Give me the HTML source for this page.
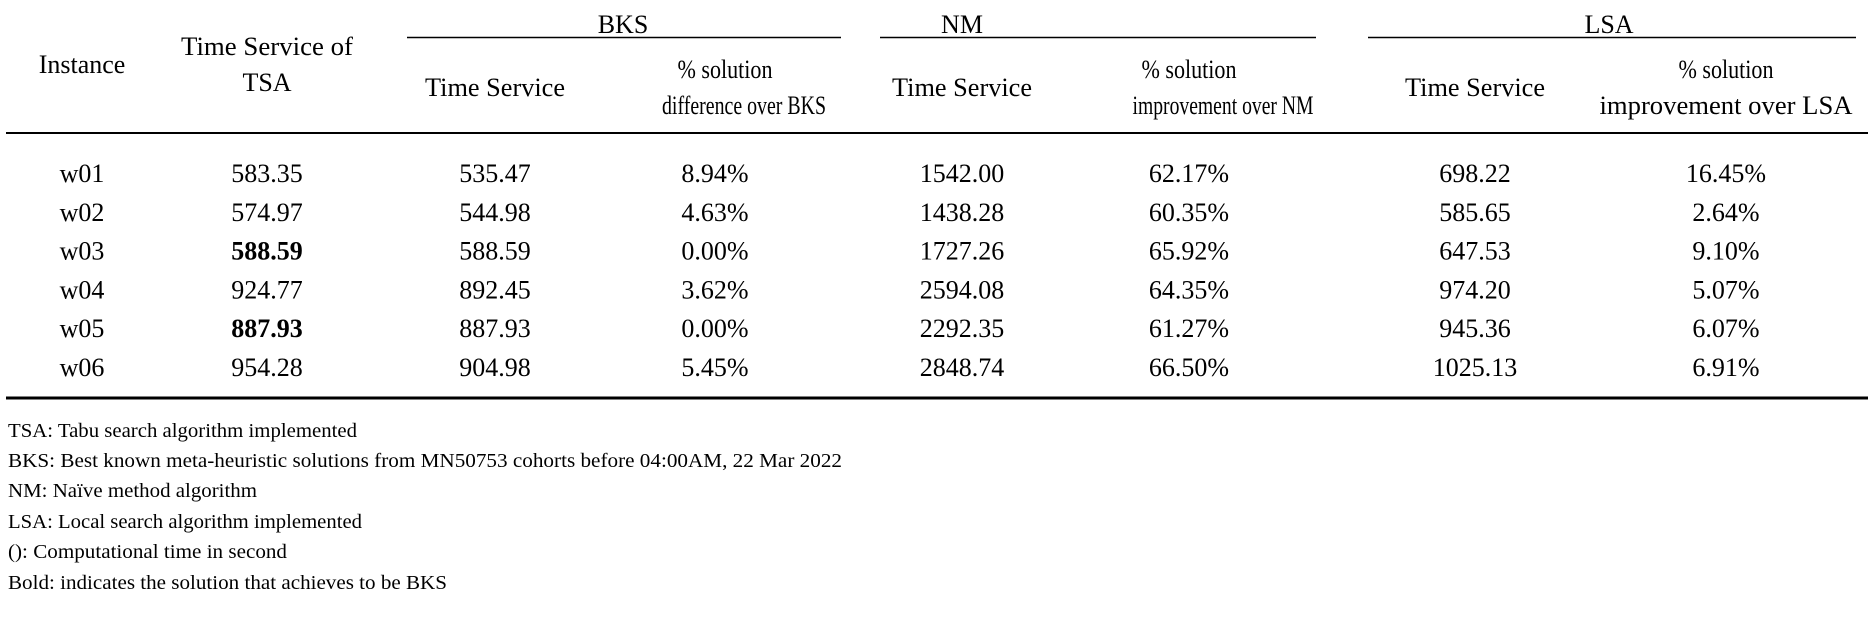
<!DOCTYPE html>
<html><head><meta charset="utf-8"><style>
html,body{margin:0;padding:0;background:#fff;}
svg{display:block;font-family:"Liberation Serif",serif;fill:#000;}
</style></head><body>
<svg id="tbl" width="1871" height="617" viewBox="0 0 1871 617" xmlns="http://www.w3.org/2000/svg">
<g font-size="26" text-anchor="middle">
<text x="82" y="73">Instance</text>
<text x="267" y="55" textLength="172" lengthAdjust="spacingAndGlyphs">Time Service of</text>
<text x="267" y="91">TSA</text>
<text x="623" y="33">BKS</text>
<text x="962" y="33">NM</text>
<text x="1609" y="33">LSA</text>
<line x1="407" y1="37.5" x2="841" y2="37.5" stroke="#000" stroke-width="1.5"/>
<line x1="880" y1="37.5" x2="1316" y2="37.5" stroke="#000" stroke-width="1.5"/>
<line x1="1368" y1="37.5" x2="1856" y2="37.5" stroke="#000" stroke-width="1.5"/>
<text x="495" y="96" textLength="140" lengthAdjust="spacingAndGlyphs">Time Service</text>
<text x="725" y="78" textLength="95" lengthAdjust="spacingAndGlyphs">% solution</text>
<text x="744" y="114" textLength="164" lengthAdjust="spacingAndGlyphs">difference over BKS</text>
<text x="962" y="96" textLength="140" lengthAdjust="spacingAndGlyphs">Time Service</text>
<text x="1189" y="78" textLength="95" lengthAdjust="spacingAndGlyphs">% solution</text>
<text x="1223" y="114" textLength="181" lengthAdjust="spacingAndGlyphs">improvement over NM</text>
<text x="1475" y="96" textLength="140" lengthAdjust="spacingAndGlyphs">Time Service</text>
<text x="1726" y="78" textLength="95" lengthAdjust="spacingAndGlyphs">% solution</text>
<text x="1726" y="114" textLength="253" lengthAdjust="spacingAndGlyphs">improvement over LSA</text>
</g>
<line x1="6" y1="133" x2="1868" y2="133" stroke="#000" stroke-width="2"/>
<g id="body" font-size="26" text-anchor="middle"></g>
<line x1="6" y1="398" x2="1868" y2="398" stroke="#000" stroke-width="3"/>
<g font-size="20">
<text x="8" y="437" textLength="349" lengthAdjust="spacingAndGlyphs">TSA: Tabu search algorithm implemented</text>
<text x="8" y="467" textLength="834" lengthAdjust="spacingAndGlyphs">BKS: Best known meta-heuristic solutions from MN50753 cohorts before 04:00AM, 22 Mar 2022</text>
<text x="8" y="497" textLength="249" lengthAdjust="spacingAndGlyphs">NM: Naïve method algorithm</text>
<text x="8" y="528" textLength="354" lengthAdjust="spacingAndGlyphs">LSA: Local search algorithm implemented</text>
<text x="8" y="558" textLength="279" lengthAdjust="spacingAndGlyphs">(): Computational time in second</text>
<text x="8" y="589" textLength="439" lengthAdjust="spacingAndGlyphs">Bold: indicates the solution that achieves to be BKS</text>
</g>
</svg>
<script>
const instances=["w01","w02","w03","w04","w05","w06"];
const tsa=["583.35","574.97","588.59","924.77","887.93","954.28"];
const tsaBold=[false,false,true,false,true,false];
const bksTime=["535.47","544.98","588.59","892.45","887.93","904.98"];
const bksDiff=["8.94%","4.63%","0.00%","3.62%","0.00%","5.45%"];
const nmTime=["1542.00","1438.28","1727.26","2594.08","2292.35","2848.74"];
const nmImp=["62.17%","60.35%","65.92%","64.35%","61.27%","66.50%"];
const lsaTime=["698.22","585.65","647.53","974.20","945.36","1025.13"];
const lsaImp=["16.45%","2.64%","9.10%","5.07%","6.07%","6.91%"];
const cols=[[82,instances,'instance'],[267,tsa,'tsa-time'],[495,bksTime,'bks-time'],[715,bksDiff,'bks-diff'],[962,nmTime,'nm-time'],[1189,nmImp,'nm-improvement'],[1475,lsaTime,'lsa-time'],[1726,lsaImp,'lsa-improvement']];
const body=document.getElementById('body');
const rowY=i=>182+i*38.8;
instances.forEach((inst,i)=>{
  cols.forEach(([x,arr,nm],c)=>{
    const t=document.createElementNS('http://www.w3.org/2000/svg','text');
    t.setAttribute('x',x);t.setAttribute('y',rowY(i));
    t.textContent=arr[i];
    if(c===1&&tsaBold[i])t.setAttribute('font-weight','bold');
    
    
    body.appendChild(t);
  });
});
</script>
</body></html>
